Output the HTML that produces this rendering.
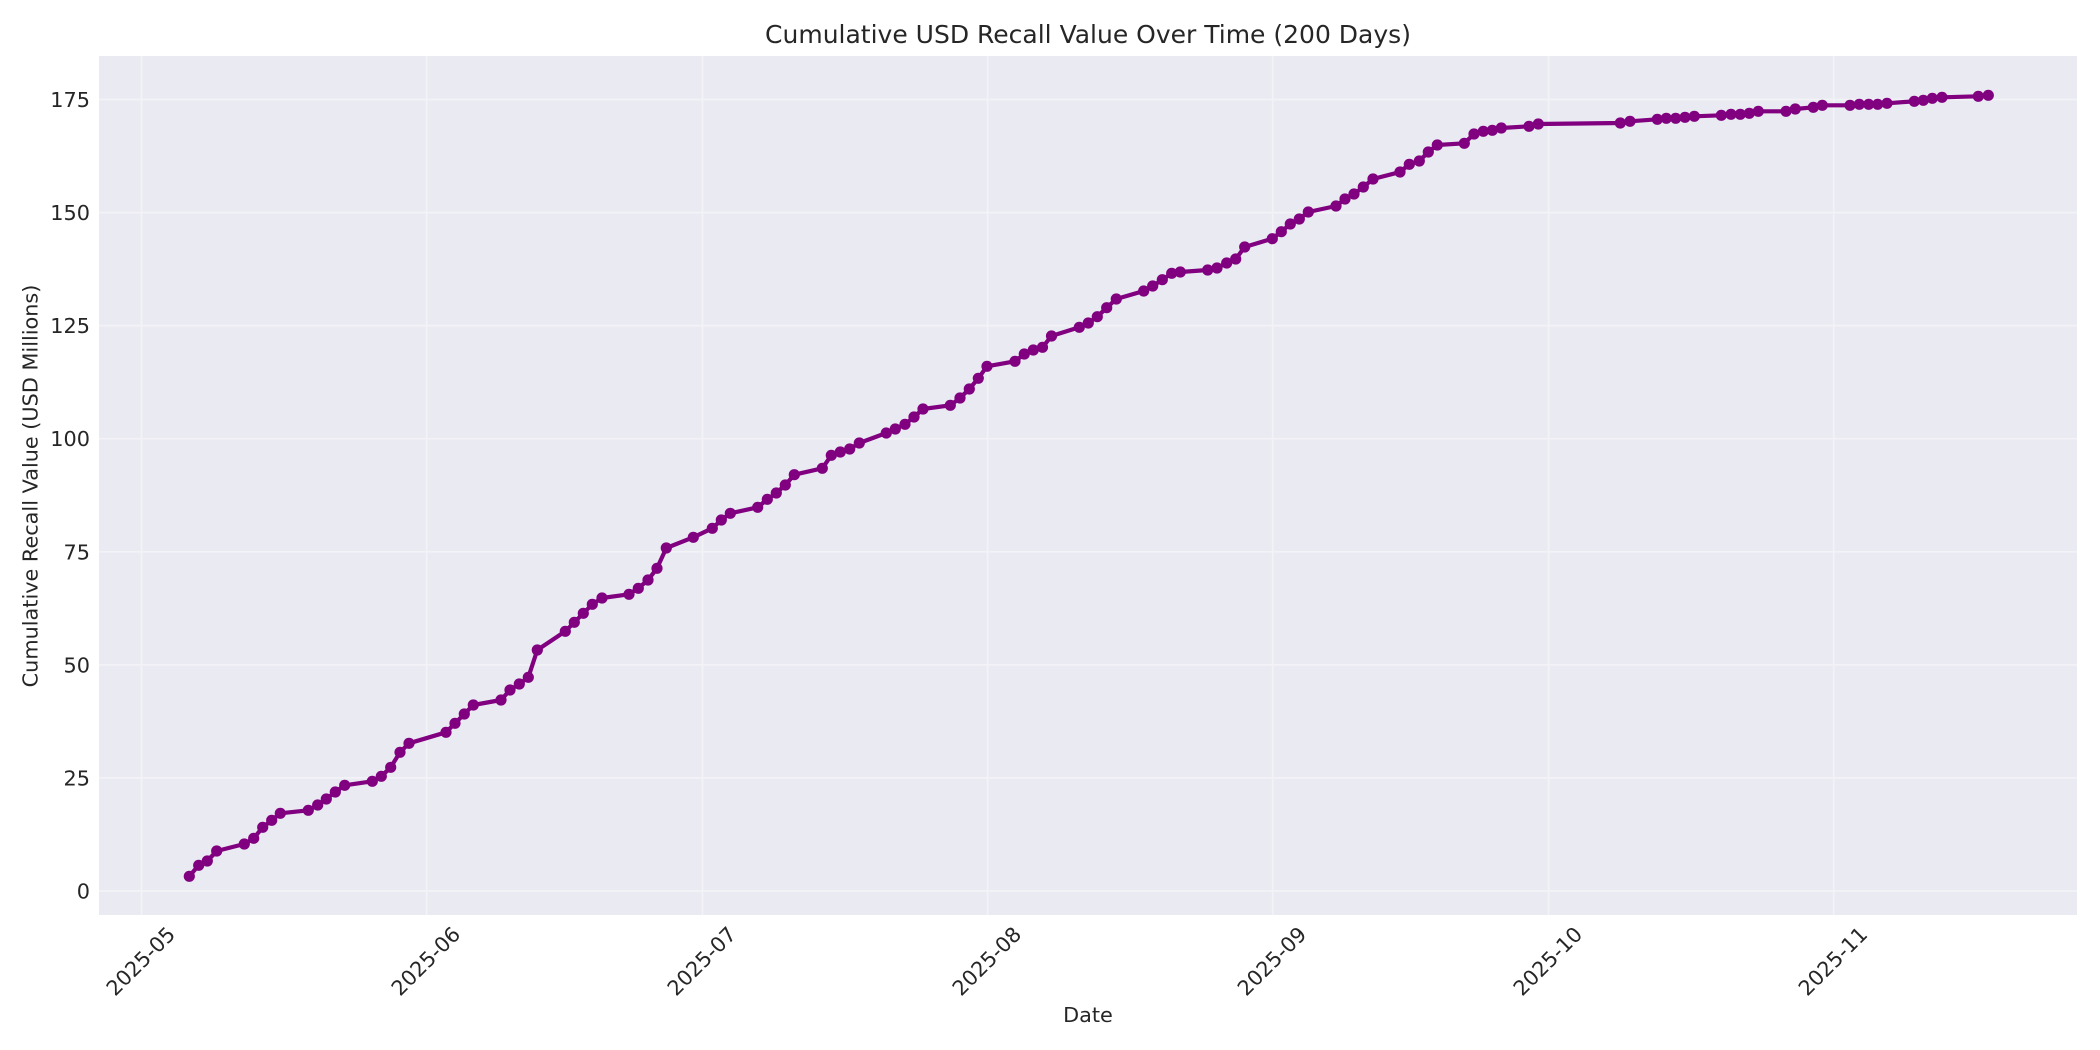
<!DOCTYPE html>
<html>
<head>
<meta charset="utf-8">
<style>
html,body{margin:0;padding:0;background:#ffffff;}
svg{display:block;}
text{font-family:"DejaVu Sans","Liberation Sans",sans-serif;fill:#262626;}
</style>
</head>
<body>
<svg width="2100" height="1050" viewBox="0 0 2100 1050" xmlns="http://www.w3.org/2000/svg">
<rect x="0" y="0" width="2100" height="1050" fill="#ffffff"/>
<rect x="99" y="56" width="1978" height="859" fill="#EAEAF2"/>
<g stroke="#F2F2F7" stroke-width="1.7">
<line x1="99" x2="2077" y1="891" y2="891"/>
<line x1="99" x2="2077" y1="777.9" y2="777.9"/>
<line x1="99" x2="2077" y1="664.9" y2="664.9"/>
<line x1="99" x2="2077" y1="551.8" y2="551.8"/>
<line x1="99" x2="2077" y1="438.7" y2="438.7"/>
<line x1="99" x2="2077" y1="325.6" y2="325.6"/>
<line x1="99" x2="2077" y1="212.6" y2="212.6"/>
<line x1="99" x2="2077" y1="99.5" y2="99.5"/>
<line y1="56" y2="915" x1="141.5" x2="141.5"/>
<line y1="56" y2="915" x1="426.6" x2="426.6"/>
<line y1="56" y2="915" x1="702.5" x2="702.5"/>
<line y1="56" y2="915" x1="987.6" x2="987.6"/>
<line y1="56" y2="915" x1="1272.7" x2="1272.7"/>
<line y1="56" y2="915" x1="1548.6" x2="1548.6"/>
<line y1="56" y2="915" x1="1833.7" x2="1833.7"/>
</g>
<g>
<polyline fill="none" stroke="#800080" stroke-width="4.2" stroke-linejoin="round" stroke-linecap="round" points="189.3,876.3 198.7,865.3 207.3,861 216.7,851 244.3,844 253.7,838.3 262.7,827.3 271.7,820.3 280.3,813.3 308.3,810.3 317.7,805 326.3,799 335.3,792 344.7,785.3 372.3,781.3 381.3,776.3 390.7,767.3 400,752.3 409,743.3 446,732.3 455,723.3 464.3,714 473.3,705 501,700 510,690 519.3,684 528.3,677.3 537.3,650 565.3,631.3 574.3,622.3 583.3,613.3 592.3,604.3 602,598 629,594.3 638.3,588.3 648,580 657,568.3 666.3,548 693.3,537.3 712.3,528.3 721.3,520 730.3,513.3 757.7,507.3 767.3,499.3 776.3,493 785.3,485 794.3,474.7 822.3,468.3 831.3,455.3 840.3,452 849.7,449 859.3,443 886.3,433 895.3,429 905,424.3 914,417 923,409 950.3,405.3 960,398 969.3,389 978.3,378.3 987,366.3 1015,361.3 1024.3,354 1033.3,350 1042.5,347.3 1051.5,336 1079.3,327.3 1088.3,323 1097.3,316.7 1106.7,307.7 1116.3,299 1143.7,291 1152.7,286 1162.3,279.7 1171.7,273.3 1180.3,272 1207.7,270 1217,268 1226.7,263 1235.7,259 1244.7,247 1272.3,238.7 1281.3,231.7 1290.3,224 1299.3,219 1308.3,212 1336,206 1345,199 1354,194 1363.3,187 1373,179 1400,172 1409.3,164.3 1419.3,161 1428.3,152 1437.3,145 1464.3,143.3 1474,134 1483.3,131.3 1492.3,130.3 1501.3,128 1529,126.3 1538.3,124 1620.3,123 1630,121.3 1657.3,119.3 1666.3,118.3 1675.7,118.3 1685,117.3 1694.3,116.3 1721.3,115.3 1731,114.3 1740.3,114.3 1749.3,113.3 1758.3,111.3 1786,111.3 1795.3,109 1813.3,107.3 1822.3,105.3 1850,105.3 1859.3,104.3 1868.7,104.3 1877.7,104.3 1887,103.3 1914.3,101.3 1923.3,100.3 1932.3,98.3 1942,97.3 1978.3,96.3 1988.3,95.3"/>
<g fill="#800080">
<circle cx="189.3" cy="876.3" r="5.6"/><circle cx="198.7" cy="865.3" r="5.6"/><circle cx="207.3" cy="861" r="5.6"/><circle cx="216.7" cy="851" r="5.6"/><circle cx="244.3" cy="844" r="5.6"/><circle cx="253.7" cy="838.3" r="5.6"/><circle cx="262.7" cy="827.3" r="5.6"/><circle cx="271.7" cy="820.3" r="5.6"/><circle cx="280.3" cy="813.3" r="5.6"/><circle cx="308.3" cy="810.3" r="5.6"/><circle cx="317.7" cy="805" r="5.6"/><circle cx="326.3" cy="799" r="5.6"/><circle cx="335.3" cy="792" r="5.6"/><circle cx="344.7" cy="785.3" r="5.6"/><circle cx="372.3" cy="781.3" r="5.6"/><circle cx="381.3" cy="776.3" r="5.6"/><circle cx="390.7" cy="767.3" r="5.6"/><circle cx="400" cy="752.3" r="5.6"/><circle cx="409" cy="743.3" r="5.6"/><circle cx="446" cy="732.3" r="5.6"/><circle cx="455" cy="723.3" r="5.6"/><circle cx="464.3" cy="714" r="5.6"/><circle cx="473.3" cy="705" r="5.6"/><circle cx="501" cy="700" r="5.6"/><circle cx="510" cy="690" r="5.6"/><circle cx="519.3" cy="684" r="5.6"/><circle cx="528.3" cy="677.3" r="5.6"/><circle cx="537.3" cy="650" r="5.6"/><circle cx="565.3" cy="631.3" r="5.6"/><circle cx="574.3" cy="622.3" r="5.6"/><circle cx="583.3" cy="613.3" r="5.6"/><circle cx="592.3" cy="604.3" r="5.6"/><circle cx="602" cy="598" r="5.6"/><circle cx="629" cy="594.3" r="5.6"/><circle cx="638.3" cy="588.3" r="5.6"/><circle cx="648" cy="580" r="5.6"/><circle cx="657" cy="568.3" r="5.6"/><circle cx="666.3" cy="548" r="5.6"/><circle cx="693.3" cy="537.3" r="5.6"/><circle cx="712.3" cy="528.3" r="5.6"/><circle cx="721.3" cy="520" r="5.6"/><circle cx="730.3" cy="513.3" r="5.6"/><circle cx="757.7" cy="507.3" r="5.6"/><circle cx="767.3" cy="499.3" r="5.6"/><circle cx="776.3" cy="493" r="5.6"/><circle cx="785.3" cy="485" r="5.6"/><circle cx="794.3" cy="474.7" r="5.6"/><circle cx="822.3" cy="468.3" r="5.6"/><circle cx="831.3" cy="455.3" r="5.6"/><circle cx="840.3" cy="452" r="5.6"/><circle cx="849.7" cy="449" r="5.6"/><circle cx="859.3" cy="443" r="5.6"/><circle cx="886.3" cy="433" r="5.6"/><circle cx="895.3" cy="429" r="5.6"/><circle cx="905" cy="424.3" r="5.6"/><circle cx="914" cy="417" r="5.6"/><circle cx="923" cy="409" r="5.6"/><circle cx="950.3" cy="405.3" r="5.6"/><circle cx="960" cy="398" r="5.6"/><circle cx="969.3" cy="389" r="5.6"/><circle cx="978.3" cy="378.3" r="5.6"/><circle cx="987" cy="366.3" r="5.6"/><circle cx="1015" cy="361.3" r="5.6"/><circle cx="1024.3" cy="354" r="5.6"/><circle cx="1033.3" cy="350" r="5.6"/><circle cx="1042.5" cy="347.3" r="5.6"/><circle cx="1051.5" cy="336" r="5.6"/><circle cx="1079.3" cy="327.3" r="5.6"/><circle cx="1088.3" cy="323" r="5.6"/><circle cx="1097.3" cy="316.7" r="5.6"/><circle cx="1106.7" cy="307.7" r="5.6"/><circle cx="1116.3" cy="299" r="5.6"/><circle cx="1143.7" cy="291" r="5.6"/><circle cx="1152.7" cy="286" r="5.6"/><circle cx="1162.3" cy="279.7" r="5.6"/><circle cx="1171.7" cy="273.3" r="5.6"/><circle cx="1180.3" cy="272" r="5.6"/><circle cx="1207.7" cy="270" r="5.6"/><circle cx="1217" cy="268" r="5.6"/><circle cx="1226.7" cy="263" r="5.6"/><circle cx="1235.7" cy="259" r="5.6"/><circle cx="1244.7" cy="247" r="5.6"/><circle cx="1272.3" cy="238.7" r="5.6"/><circle cx="1281.3" cy="231.7" r="5.6"/><circle cx="1290.3" cy="224" r="5.6"/><circle cx="1299.3" cy="219" r="5.6"/><circle cx="1308.3" cy="212" r="5.6"/><circle cx="1336" cy="206" r="5.6"/><circle cx="1345" cy="199" r="5.6"/><circle cx="1354" cy="194" r="5.6"/><circle cx="1363.3" cy="187" r="5.6"/><circle cx="1373" cy="179" r="5.6"/><circle cx="1400" cy="172" r="5.6"/><circle cx="1409.3" cy="164.3" r="5.6"/><circle cx="1419.3" cy="161" r="5.6"/><circle cx="1428.3" cy="152" r="5.6"/><circle cx="1437.3" cy="145" r="5.6"/><circle cx="1464.3" cy="143.3" r="5.6"/><circle cx="1474" cy="134" r="5.6"/><circle cx="1483.3" cy="131.3" r="5.6"/><circle cx="1492.3" cy="130.3" r="5.6"/><circle cx="1501.3" cy="128" r="5.6"/><circle cx="1529" cy="126.3" r="5.6"/><circle cx="1538.3" cy="124" r="5.6"/><circle cx="1620.3" cy="123" r="5.6"/><circle cx="1630" cy="121.3" r="5.6"/><circle cx="1657.3" cy="119.3" r="5.6"/><circle cx="1666.3" cy="118.3" r="5.6"/><circle cx="1675.7" cy="118.3" r="5.6"/><circle cx="1685" cy="117.3" r="5.6"/><circle cx="1694.3" cy="116.3" r="5.6"/><circle cx="1721.3" cy="115.3" r="5.6"/><circle cx="1731" cy="114.3" r="5.6"/><circle cx="1740.3" cy="114.3" r="5.6"/><circle cx="1749.3" cy="113.3" r="5.6"/><circle cx="1758.3" cy="111.3" r="5.6"/><circle cx="1786" cy="111.3" r="5.6"/><circle cx="1795.3" cy="109" r="5.6"/><circle cx="1813.3" cy="107.3" r="5.6"/><circle cx="1822.3" cy="105.3" r="5.6"/><circle cx="1850" cy="105.3" r="5.6"/><circle cx="1859.3" cy="104.3" r="5.6"/><circle cx="1868.7" cy="104.3" r="5.6"/><circle cx="1877.7" cy="104.3" r="5.6"/><circle cx="1887" cy="103.3" r="5.6"/><circle cx="1914.3" cy="101.3" r="5.6"/><circle cx="1923.3" cy="100.3" r="5.6"/><circle cx="1932.3" cy="98.3" r="5.6"/><circle cx="1942" cy="97.3" r="5.6"/><circle cx="1978.3" cy="96.3" r="5.6"/><circle cx="1988.3" cy="95.3" r="5.6"/>
</g>
</g>
<g font-size="20.8" text-anchor="end">
<text x="90" y="898.5">0</text>
<text x="90" y="785.4">25</text>
<text x="90" y="672.4">50</text>
<text x="90" y="559.3">75</text>
<text x="90" y="446.2">100</text>
<text x="90" y="333.1">125</text>
<text x="90" y="220.1">150</text>
<text x="90" y="107">175</text>
</g>
<g font-size="20.8" text-anchor="middle">
<text transform="translate(140.5,961) rotate(-45)" y="7.5">2025-05</text>
<text transform="translate(425.6,961) rotate(-45)" y="7.5">2025-06</text>
<text transform="translate(701.5,961) rotate(-45)" y="7.5">2025-07</text>
<text transform="translate(986.6,961) rotate(-45)" y="7.5">2025-08</text>
<text transform="translate(1271.7,961) rotate(-45)" y="7.5">2025-09</text>
<text transform="translate(1547.6,961) rotate(-45)" y="7.5">2025-10</text>
<text transform="translate(1832.7,961) rotate(-45)" y="7.5">2025-11</text>
</g>
<text x="1088" y="1022" font-size="20.8" text-anchor="middle">Date</text>
<text transform="translate(37.5,486) rotate(-90)" font-size="20.8" text-anchor="middle">Cumulative Recall Value (USD Millions)</text>
<text x="1088" y="43" font-size="25" text-anchor="middle">Cumulative USD Recall Value Over Time (200 Days)</text>
</svg>
</body>
</html>
